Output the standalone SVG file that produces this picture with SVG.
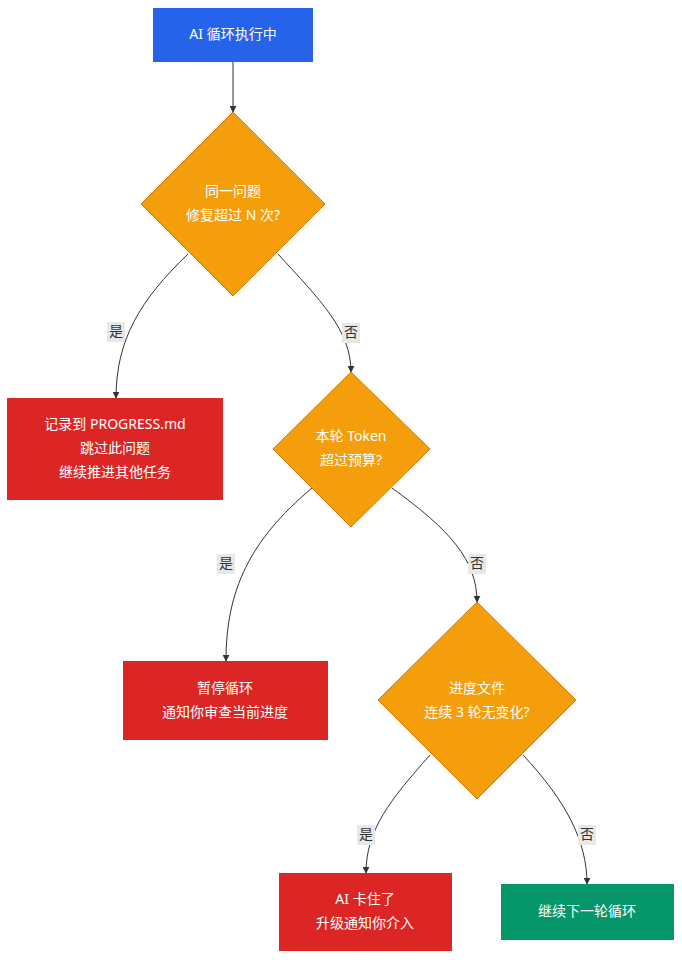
<svg xmlns="http://www.w3.org/2000/svg" width="682" height="960" viewBox="0 0 682 960">
<style>
text{font-family:"Noto Sans","Noto Sans CJK SC",sans-serif;font-size:14px;fill:#fff;text-anchor:middle;dominant-baseline:middle}
.e{fill:none;stroke:#333;stroke-width:1}
.lb{fill:#e8e8e8}
.lt{fill:#333}
.red{fill:#dc2626}
.dia{fill:#f59e0b;stroke:#d97706;stroke-width:1}
</style>
<defs><marker id="a" viewBox="0 0 10 10" refX="9" refY="5" markerWidth="7" markerHeight="7" orient="auto"><path d="M0,0L10,5L0,10z" fill="#333"/></marker></defs>
<rect width="682" height="960" fill="#fff"/>
<g id="connectors">
<path class="e" marker-end="url(#a)" d="M233,62V112"/>
<path class="e" marker-end="url(#a)" d="M188,254C140,300 116,340 116,398"/>
<path class="e" marker-end="url(#a)" d="M278,254C320,300 351,330 351,372"/>
<path class="e" marker-end="url(#a)" d="M312,488C250,540 226,590 226,661"/>
<path class="e" marker-end="url(#a)" d="M392,488C450,530 477,560 477,602"/>
<path class="e" marker-end="url(#a)" d="M430,755C390,800 366,830 366,873"/>
<path class="e" marker-end="url(#a)" d="M523,755C565,800 587,840 587,884"/>
<rect class="lb" x="107" y="322" width="18" height="20"/><text class="lt" x="116" y="332">是</text>
<rect class="lb" x="342" y="323" width="18" height="20"/><text class="lt" x="351" y="333">否</text>
<rect class="lb" x="217" y="554" width="18" height="20"/><text class="lt" x="226" y="564">是</text>
<rect class="lb" x="468" y="554" width="18" height="20"/><text class="lt" x="477" y="564">否</text>
<rect class="lb" x="357" y="825" width="18" height="20"/><text class="lt" x="366" y="835">是</text>
<rect class="lb" x="578" y="825" width="18" height="20"/><text class="lt" x="587" y="835">否</text>
</g>
<g id="start"><rect x="153" y="8" width="160" height="54" fill="#2563eb"/><text x="233" y="35">AI 循环执行中</text></g>
<g id="d1"><polygon class="dia" points="233,112 325,204 233,296 141,204"/><text x="233" y="192">同一问题</text><text x="233" y="216">修复超过 N 次?</text></g>
<g id="skip"><rect class="red" x="7" y="398" width="216" height="102"/><text x="115" y="425">记录到 PROGRESS.md</text><text x="115" y="449">跳过此问题</text><text x="115" y="473">继续推进其他任务</text></g>
<g id="d2"><polygon class="dia" points="351,372 430,449 351,527 273,449"/><text x="351" y="437">本轮 Token</text><text x="351" y="461">超过预算?</text></g>
<g id="pause"><rect class="red" x="123" y="661" width="205" height="79"/><text x="225" y="689">暂停循环</text><text x="225" y="713">通知你审查当前进度</text></g>
<g id="d3"><polygon class="dia" points="477,602 576,700 477,799 378,700"/><text x="477" y="689">进度文件</text><text x="477" y="713">连续 3 轮无变化?</text></g>
<g id="stuck"><rect class="red" x="279" y="873" width="173" height="78"/><text x="365" y="900">AI 卡住了</text><text x="365" y="924">升级通知你介入</text></g>
<g id="next"><rect x="501" y="884" width="173" height="56" fill="#059669"/><text x="587" y="912">继续下一轮循环</text></g>
</svg>
